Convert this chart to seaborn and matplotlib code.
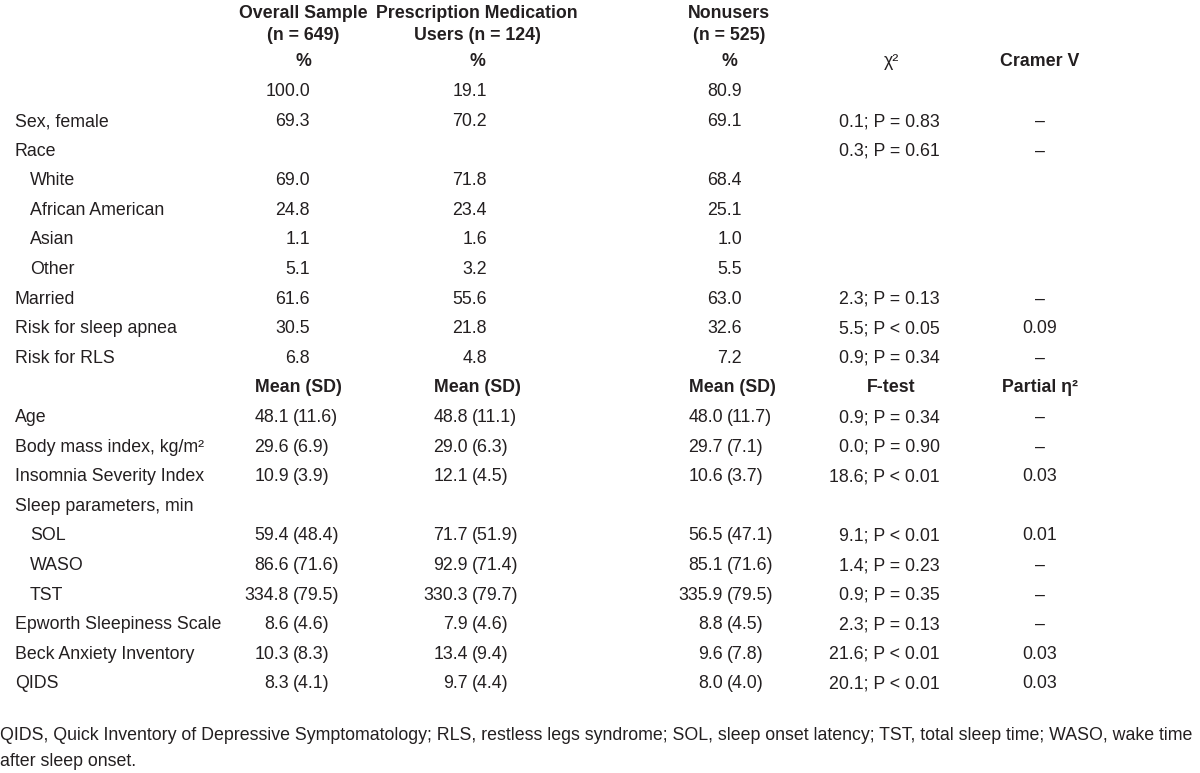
import numpy as np
import pandas as pd
import matplotlib
import matplotlib.pyplot as plt
import seaborn as sns

# --- table data -------------------------------------------------------------
groups = ["Overall Sample", "Prescription Medication", "Nonusers"]
groupN = ["(n = 649)", "Users (n = 124)", "(n = 525)"]

# percent block (None = empty cell)
pctLabels = ["", "Sex, female", "Race", "White", "African American", "Asian", "Other",
             "Married", "Risk for sleep apnea", "Risk for RLS"]
pctIndent = [0, 0, 0, 1, 1, 1, 1, 0, 0, 0]
pctOverall = [100.0, 69.3, None, 69.0, 24.8, 1.1, 5.1, 61.6, 30.5, 6.8]
pctUsers = [19.1, 70.2, None, 71.8, 23.4, 1.6, 3.2, 55.6, 21.8, 4.8]
pctNonusers = [80.9, 69.1, None, 68.4, 25.1, 1.0, 5.5, 63.0, 32.6, 7.2]
chiTest = ["", "0.1; P = 0.83", "0.3; P = 0.61", "", "", "", "", "2.3; P = 0.13",
           "5.5; P < 0.05", "0.9; P = 0.34"]
cramerV = ["", "–", "–", "", "", "", "", "–", "0.09", "–"]

# mean (SD) block
meanLabels = ["Age", "Body mass index, kg/m²", "Insomnia Severity Index", "Sleep parameters, min",
              "SOL", "WASO", "TST", "Epworth Sleepiness Scale", "Beck Anxiety Inventory", "QIDS"]
meanIndent = [0, 0, 0, 0, 1, 1, 1, 0, 0, 0]
meanOverall = [48.1, 29.6, 10.9, None, 59.4, 86.6, 334.8, 8.6, 10.3, 8.3]
sdOverall = [11.6, 6.9, 3.9, None, 48.4, 71.6, 79.5, 4.6, 8.3, 4.1]
meanUsers = [48.8, 29.0, 12.1, None, 71.7, 92.9, 330.3, 7.9, 13.4, 9.7]
sdUsers = [11.1, 6.3, 4.5, None, 51.9, 71.4, 79.7, 4.6, 9.4, 4.4]
meanNonusers = [48.0, 29.7, 10.6, None, 56.5, 85.1, 335.9, 8.8, 9.6, 8.0]
sdNonusers = [11.7, 7.1, 3.7, None, 47.1, 71.6, 79.5, 4.5, 7.8, 4.0]
fTest = ["0.9; P = 0.34", "0.0; P = 0.90", "18.6; P < 0.01", "", "9.1; P < 0.01",
         "1.4; P = 0.23", "0.9; P = 0.35", "2.3; P = 0.13", "21.6; P < 0.01", "20.1; P < 0.01"]
partialEta = ["–", "–", "0.03", "", "0.01", "–", "–", "–", "0.03", "0.03"]

footnote = ["QIDS, Quick Inventory of Depressive Symptomatology; RLS, restless legs syndrome; "
            "SOL, sleep onset latency; TST, total sleep time; WASO, wake time",
            "after sleep onset."]

# --- layout -----------------------------------------------------------------
sns.set_theme(style="white")
plt.rcParams['font.family'] = ['Liberation Sans Narrow', 'Liberation Sans', 'DejaVu Sans']
FS = 12.8
INK = "#231f20"

colCenter = [303, 477, 729]      # group header centres
pctRight = [310, 487, 742]       # right edge of percent values
meanRight = [289, 468, 723]      # right edge of the mean part
testRight = 940
testCenter = 891
effCenter = 1040
labelX = [15, 30]
row0, rowStep = 92, 29.6

fig = plt.figure(figsize=(12, 7.73), dpi=100)
ax = fig.add_axes([0, 0, 1, 1])
ax.set_xlim(0, 1200)
ax.set_ylim(773, 0)
ax.axis("off")


def put(x, y, s, ha="left", bold=False):
    ax.text(x, y, s, ha=ha, va="center", fontsize=FS, color=INK,
            fontweight="bold" if bold else "normal")


# headers
for c, g, n in zip(colCenter, groups, groupN):
    put(c, 13, g, ha="center", bold=True)
    put(c, 36, n, ha="center", bold=True)
    put(c, 62, "%", ha="center", bold=True)
put(testCenter, 62, "χ²", ha="center")
put(effCenter, 62, "Cramer V", ha="center", bold=True)

# percent block
for i in range(len(pctLabels)):
    y = row0 + i * rowStep
    put(labelX[pctIndent[i]], y, pctLabels[i])
    for xr, vals in zip(pctRight, [pctOverall, pctUsers, pctNonusers]):
        if vals[i] is not None:
            put(xr, y, "{:.1f}".format(vals[i]), ha="right")
    put(testRight, y, chiTest[i], ha="right")
    put(effCenter, y, cramerV[i], ha="center")

# mean block header
yHead = row0 + len(pctLabels) * rowStep
for xr in meanRight:
    put(xr + 9, yHead, "Mean (SD)", ha="center", bold=True)
put(testCenter, yHead, "F-test", ha="center", bold=True)
put(effCenter, yHead, "Partial η²", ha="center", bold=True)

# mean block
for j in range(len(meanLabels)):
    y = yHead + (j + 1) * rowStep
    put(labelX[meanIndent[j]], y, meanLabels[j])
    for xr, m, s in zip(meanRight, [meanOverall, meanUsers, meanNonusers],
                        [sdOverall, sdUsers, sdNonusers]):
        if m[j] is not None:
            put(xr, y, "{:.1f}".format(m[j]), ha="right")
            put(xr + 4, y, "({:.1f})".format(s[j]), ha="left")
    put(testRight, y, fTest[j], ha="right")
    put(effCenter, y, partialEta[j], ha="center")

put(0, 736, footnote[0])
put(0, 761, footnote[1])

fig.savefig("out.png", dpi=100, facecolor="white")
